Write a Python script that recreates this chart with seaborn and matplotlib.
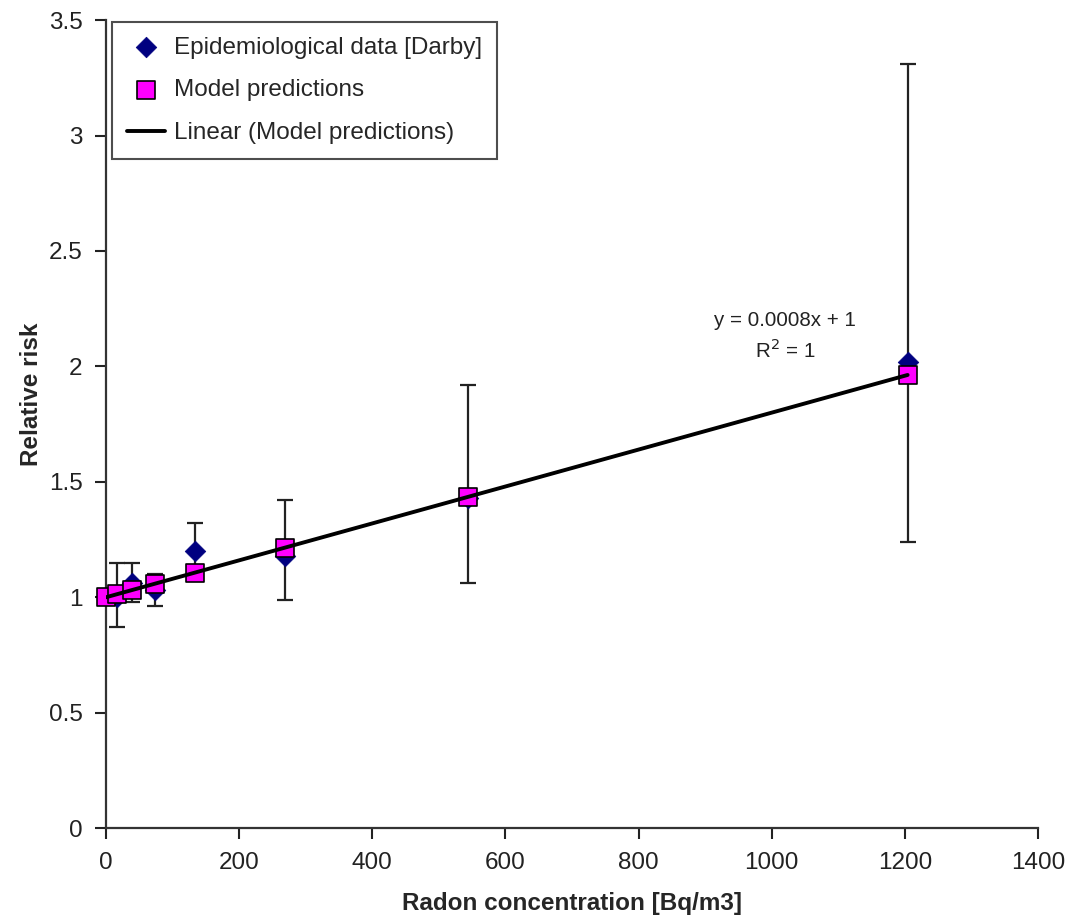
import numpy as np
import pandas as pd
import matplotlib
matplotlib.use("Agg")
import matplotlib.pyplot as plt
import seaborn as sns

# Dados (Darby et al. / modelo)
radon_darby = [17, 39, 73, 134, 269, 544, 1204]
rr_darby = [1.00, 1.06, 1.03, 1.20, 1.18, 1.43, 2.02]
ci_low = [0.87, 0.98, 0.96, 1.08, 0.99, 1.06, 1.24]
ci_high = [1.15, 1.15, 1.10, 1.32, 1.42, 1.92, 3.31]

radon_model = [0, 17, 39, 73, 134, 269, 544, 1204]
rr_model = [1.00, 1.014, 1.031, 1.058, 1.107, 1.215, 1.435, 1.963]

x_ticks = [0, 200, 400, 600, 800, 1000, 1200, 1400]
y_ticks = [0, 0.5, 1, 1.5, 2, 2.5, 3, 3.5]

sns.set_theme(style="ticks")
plt.rcParams["font.family"] = ["Liberation Sans", "DejaVu Sans"]

df_darby = pd.DataFrame({"x": radon_darby, "y": rr_darby})
df_model = pd.DataFrame({"x": radon_model, "y": rr_model})

fig = plt.figure(figsize=(10.68, 9.17), dpi=100)
ax = fig.add_axes([0.0993, 0.097, 0.8727, 0.881])

# barras de erro
yerr = [np.array(rr_darby) - np.array(ci_low), np.array(ci_high) - np.array(rr_darby)]
ax.errorbar(radon_darby, rr_darby, yerr=yerr, fmt="none", ecolor="#222222",
            elinewidth=1.6, capsize=5.5, capthick=1.6, zorder=2)

# pontos epidemiológicos
sns.scatterplot(data=df_darby, x="x", y="y", ax=ax, marker="D", s=110,
                color="#000080", edgecolor="#000080", linewidth=0.5,
                label="Epidemiological data [Darby]", zorder=3, clip_on=False)

# tendência linear
coef = np.polyfit(radon_model, rr_model, 1)
x_fit = np.array([min(radon_model), max(radon_model)])
df_fit = pd.DataFrame({"x": x_fit, "y": np.polyval(coef, x_fit)})

# previsões do modelo
sns.scatterplot(data=df_model, x="x", y="y", ax=ax, marker="s", s=150,
                color="#FF00FF", edgecolor="black", linewidth=1.2,
                label="Model predictions", zorder=4, clip_on=False)
sns.lineplot(data=df_fit, x="x", y="y", ax=ax, color="black", linewidth=2.8,
             label="Linear (Model predictions)", zorder=5)

ax.text(1020, 2.13, "y = 0.0008x + 1\nR$^2$ = 1", ha="center", va="center",
        fontsize=14.8, color="#222222", linespacing=1.4)

ax.set_xlim(0, 1400)
ax.set_ylim(0, 3.5)
ax.set_xticks(x_ticks)
ax.set_xticklabels([str(t) for t in x_ticks])
ax.set_yticks(y_ticks)
ax.set_yticklabels([f"{t:g}" for t in y_ticks])
ax.tick_params(axis="both", direction="out", length=8, width=1.5,
               labelsize=17.5, colors="#222222", pad=9)
ax.tick_params(axis="y", pad=9)
for s in ["left", "bottom"]:
    ax.spines[s].set_linewidth(1.6)
    ax.spines[s].set_color("#333333")
ax.spines[["top", "right"]].set_visible(False)

ax.set_xlabel("Radon concentration [Bq/m3]", fontsize=17.5, fontweight="bold")
ax.set_ylabel("Relative risk", fontsize=17.5, fontweight="bold")
ax.xaxis.set_label_coords(0.5, -0.079)
ax.yaxis.set_label_coords(-0.068, 0.537)

leg = ax.legend(loc="upper left", bbox_to_anchor=(0.0064, 0.9975), fontsize=17.5,
                frameon=True, fancybox=False, edgecolor="#222222",
                borderaxespad=0, borderpad=0.6, labelspacing=0.85,
                handlelength=1.6, handletextpad=0.35)
leg.get_frame().set_linewidth(1.5)
leg.set_zorder(10)

fig.savefig("out.png", dpi=100)
